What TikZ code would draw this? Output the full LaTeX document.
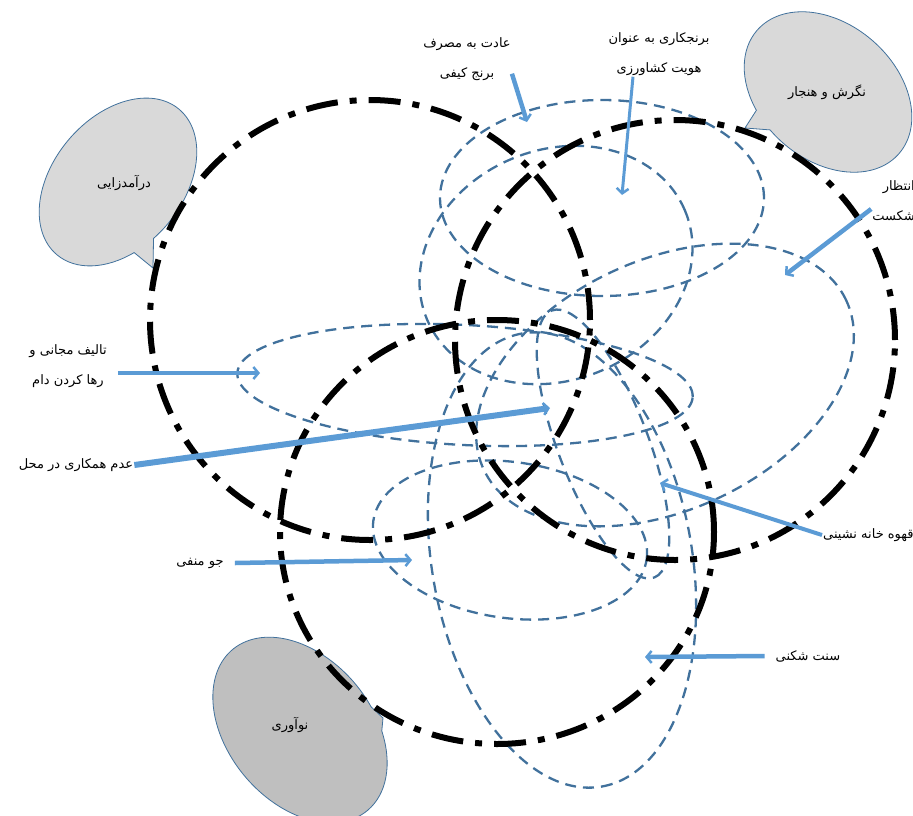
\documentclass[tikz,border=0pt]{standalone}
\usepackage{fontspec}
\usepackage{xcolor}
\usepackage{tikz}
\usetikzlibrary{shapes.geometric,shapes.callouts,arrows.meta}
\TeXXeTstate=1
\newfontfamily\persianfont[Script=Arabic]{DejaVu Sans}
\definecolor{loopblue}{RGB}{65,113,156}
\definecolor{arrowblue}{RGB}{91,155,213}
\definecolor{bubblelight}{RGB}{217,217,217}
\definecolor{bubbledark}{RGB}{191,191,191}

\begin{document}
\begin{tikzpicture}[x=1pt,y=-1pt]
			\tikzstyle{blackring} = [draw, ellipse, inner sep=0pt, line width=6pt, dash pattern=on 32pt off 12pt on 7pt off 12pt]
			\tikzstyle{dashloop} = [draw=loopblue, ellipse, inner sep=0pt, line width=2.3pt, dash pattern=on 11pt off 7pt]
			\tikzstyle{persiantext} = [font=\persianfont\fontsize{13}{30}\selectfont, align=center, inner sep=1pt]
			\tikzstyle{bubble} = [ellipse callout, draw=loopblue, line width=0.8pt, inner sep=0pt]
			\tikzset{edge/.style = {draw=arrowblue, line width=4.5pt, -{Straight Barb[length=5pt,width=12pt,line width=2.5pt]}}}
			
			\useasboundingbox (0,0) rectangle (913,815);
			\clip (0,0) rectangle (913,815);
			
			% speech bubbles
			\node[bubble, fill=bubblelight, minimum width=190pt, minimum height=130pt, rotate=50, callout absolute pointer={(153,268)}](daramadbubble) at (118,182) {};
			\node[bubble, fill=bubblelight, minimum width=188pt, minimum height=136pt, rotate=-41, callout absolute pointer={(745,128)}](negareshbubble) at (828,92) {};
			\node[bubble, fill=bubbledark, minimum width=210pt, minimum height=144pt, rotate=-50, callout absolute pointer={(383,718)}](noavaribubble) at (300,730) {};
			\node[persiantext](daramad) at (124,183) {\beginR درآمدزایی\endR};
			\node[persiantext](negaresh) at (827,92) {\beginR نگرش و هنجار\endR};
			\node[persiantext](noavari) at (290,725) {\beginR نوآوری\endR};
			
			% dashed loops
			\node[dashloop, minimum width=324pt, minimum height=196pt](loop1) at (602,198) {};
			\node[dashloop, minimum width=280pt, minimum height=230pt, rotate=23](loop2) at (556,265) {};
			\node[dashloop, minimum width=400pt, minimum height=250pt, rotate=25](loop3) at (665,385) {};
			\node[dashloop, minimum width=456pt, minimum height=120pt, rotate=-3](loop4) at (465,385) {};
			\node[dashloop, minimum width=276pt, minimum height=156pt, rotate=-8](loop5) at (510,540) {};
			\node[dashloop, minimum width=286pt, minimum height=90pt, rotate=-69](loop6) at (603,444) {};
			\node[dashloop, minimum width=460pt, minimum height=260pt, rotate=-80](loop7) at (562,560) {};
			
			% black rings
			\node[blackring, minimum width=440pt, minimum height=440pt](ring1) at (370,320) {};
			\node[blackring, minimum width=440pt, minimum height=440pt](ring2) at (675,340) {};
			\node[blackring, minimum width=434pt, minimum height=424pt](ring3) at (497,532) {};
			
			% labels and arrows
			\node[persiantext](adat) at (467,59) {\beginR عادت به مصرف\endR\\\beginR برنج کیفی\endR};
			\coordinate (adattip) at (527,122);
			\draw[edge]([yshift=8pt]adat.south east) to (adattip);
			
			\node[persiantext](hoviat) at (659,54) {\beginR برنجکاری به عنوان\endR\\\beginR هویت کشاورزی\endR};
			\coordinate (hoviattip) at (622,195);
			\draw[edge, line width=3pt]([xshift=-26pt]hoviat.south) to (hoviattip);
			
			\node[persiantext, align=right, anchor=east](entezar) at (916,201) {\beginR انتظار\endR\\\beginR شکست\endR};
			\coordinate (entezartip) at (785,275);
			\draw[edge]([yshift=-8pt]entezar.west) to (entezartip);
			
			\node[persiantext](talif) at (68,366) {\beginR تالیف مجانی و\endR\\\beginR رها کردن دام\endR};
			\coordinate (taliftip) at (260,373);
			\draw[edge, line width=4pt]([yshift=-7pt, xshift=10pt]talif.east) to (taliftip);
			
			\node[persiantext](adam) at (76,465) {\beginR عدم همکاری در محل\endR};
			\coordinate (adamtip) at (550,408);
			\draw[edge, line width=6pt](adam.east) to (adamtip);
			
			\node[persiantext, anchor=west](ghahve) at (822,535) {\beginR قهوه خانه نشینی\endR};
			\coordinate (ghahvetip) at (660,483);
			\draw[edge, line width=4pt](ghahve.west) to (ghahvetip);
			
			\node[persiantext](jav) at (200,563) {\beginR جو منفی\endR};
			\coordinate (javtip) at (412,560);
			\draw[edge]([xshift=10pt]jav.east) to (javtip);
			
			\node[persiantext](sonnat) at (808,656) {\beginR سنت شکنی\endR};
			\coordinate (sonnattip) at (645,657);
			\draw[edge]([xshift=-10pt]sonnat.west) to (sonnattip);
			
\end{tikzpicture}
\end{document}
